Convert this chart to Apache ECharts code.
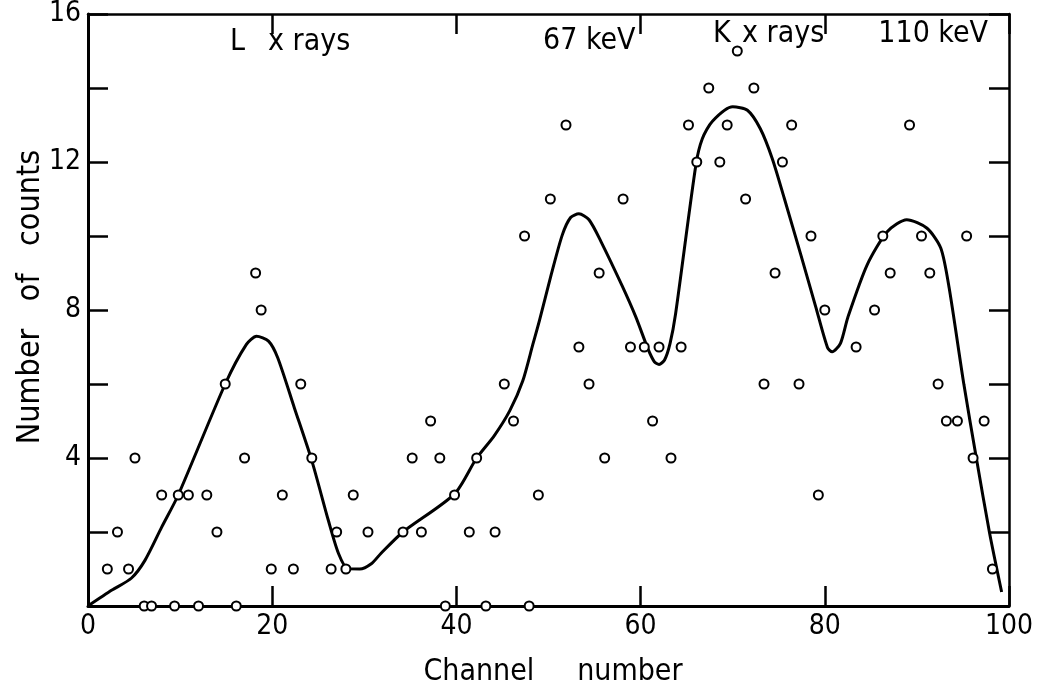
<!DOCTYPE html>
<html>
<head>
<meta charset="utf-8">
<script src="https://cdn.jsdelivr.net/npm/echarts@6/dist/echarts.min.js"></script>
<style>
html,body{margin:0;padding:0;background:#fff;}
#chart{width:1044px;height:694px;}
</style>
</head>
<body>
<div id="chart"></div>
<script>
// Measured counts per channel (open circles)
var pointX = [2.1,3.2,4.4,5.1,6.1,6.9,8.0,9.4,9.8,10.9,12.0,12.9,14.0,14.9,16.1,17.0,18.2,18.8,19.9,21.1,22.3,23.1,24.3,26.4,27.0,28.0,28.8,30.4,34.2,35.2,36.2,37.2,38.2,38.8,39.8,41.4,42.2,43.2,44.2,45.2,46.2,47.4,47.9,48.9,50.2,51.9,53.3,54.4,55.5,56.1,58.1,58.9,60.4,61.3,62.0,63.3,64.4,65.2,66.1,67.4,68.6,69.4,70.5,71.4,72.3,73.4,74.6,75.4,76.4,77.2,78.5,79.3,80.0,83.4,85.4,86.3,87.1,89.2,90.5,91.4,92.3,93.2,94.4,95.4,96.1,97.3,98.2];
var pointY = [1,2,1,4,0,0,3,0,3,3,0,3,2,6,0,4,9,8,1,3,1,6,4,1,2,1,3,2,2,4,2,5,4,0,3,2,4,0,2,6,5,10,0,3,11,13,7,6,9,4,11,7,7,5,7,4,7,13,12,14,12,13,15,11,14,6,9,12,13,6,10,3,8,7,8,10,9,13,10,9,6,5,5,10,4,5,1];

// Hand-drawn smooth fit curve
var curveX = [0,2.6,4.7,6.2,8.0,9.8,14.9,17.2,18.3,19.6,20.6,22.4,24.3,26.1,27.2,28.2,29.5,30.8,31.8,34.2,39.8,42.2,44.1,45.8,47.2,48.3,49.0,50.3,51.5,52.4,53.3,54.4,55.7,58.0,59.5,60.8,61.5,62.0,62.6,63.2,63.8,66.0,66.7,67.8,70.0,71.6,73.0,74.3,75.6,77.4,79.0,80.3,80.8,81.7,82.5,84.6,86.8,88.9,91.1,92.6,93.5,95.1,96.5,97.9,99.2];
var curveY = [0,0.43,0.75,1.24,2.13,3.0,6.0,7.07,7.29,7.16,6.71,5.36,3.93,2.31,1.42,1.01,1.0,1.15,1.42,2.0,3.03,4.0,4.6,5.28,6.08,7.07,7.7,8.96,10.03,10.5,10.6,10.44,9.85,8.65,7.8,6.95,6.6,6.53,6.65,7.1,7.9,11.92,12.63,13.1,13.49,13.4,12.9,12.09,11.02,9.49,8.1,6.98,6.87,7.1,7.8,9.22,10.12,10.44,10.21,9.67,8.6,5.99,3.93,1.96,0.38];

// Axis tick labels / titles / annotations
var xTicks = [0,20,40,60,80,100];
var yLabelled = [4,8,12,16];
var xTitle = 'Channel     number';
var yTitle = 'Number   of   counts';
var annotations = [
  {text:'L', x:230, y:42, align:'left'},
  {text:'x rays', x:268, y:42, align:'left'},
  {text:'67 keV', x:543, y:41, align:'left'},
  {text:'K', x:713, y:34, align:'left'},
  {text:'x rays', x:742, y:34, align:'left'},
  {text:'110 keV', x:988, y:34, align:'right'}
];

var FONT = '"DejaVu Sans Condensed", "DejaVu Sans", sans-serif';

var scatterData = pointX.map(function(x,i){return [x, pointY[i]];});
var curveData = curveX.map(function(x,i){return [x, curveY[i]];});

var chart = echarts.init(document.getElementById('chart'), null, {renderer:'canvas'});

function axisBase(extra){
  var base = {
    type:'value',
    splitLine:{show:false},
    axisLine:{show:true, onZero:false, lineStyle:{color:'#000', width:3}},
    axisTick:{show:true, inside:true, length:20, lineStyle:{color:'#000', width:2.5}},
  };
  for (var k in extra) base[k] = extra[k];
  return base;
}

var graphics = annotations.map(function(a){
  return {type:'text', x:a.x, y:a.y, style:{text:a.text, fill:'#000', font:'30px ' + FONT, align:a.align, verticalAlign:'middle'}};
});
graphics.push({type:'text', x:553, y:672, style:{text:xTitle, fill:'#000', font:'30px ' + FONT, align:'center', verticalAlign:'middle'}});
graphics.push({type:'text', x:31, y:297, rotation:Math.PI/2, style:{text:yTitle, fill:'#000', font:'32px ' + FONT, align:'center', verticalAlign:'middle'}});

chart.setOption({
  animation:false,
  backgroundColor:'#fff',
  grid:{left:88, right:35, top:12, bottom:88, containLabel:false},
  xAxis:[
    axisBase({position:'bottom', min:0, max:100, interval:20,
      axisLabel:{show:true, margin:7, color:'#000', fontSize:28, fontFamily:FONT,
        formatter:function(v){return xTicks.indexOf(v)>=0 ? String(v) : '';}}}),
    axisBase({position:'top', min:0, max:100, interval:20,
      axisLine:{show:true, onZero:false, lineStyle:{color:'#000', width:2.5}},
      axisLabel:{show:false}})
  ],
  yAxis:[
    axisBase({position:'left', min:0, max:16, interval:2,
      axisLabel:{show:true, margin:7, color:'#000', fontSize:28, fontFamily:FONT,
        formatter:function(v){return yLabelled.indexOf(v)>=0 ? String(v) : '';}}}),
    axisBase({position:'right', min:0, max:16, interval:2,
      axisLine:{show:true, onZero:false, lineStyle:{color:'#000', width:2.5}},
      axisLabel:{show:false}})
  ],
  series:[
    {type:'line', data:curveData, xAxisIndex:0, yAxisIndex:0, showSymbol:false, smooth:0.25,
      lineStyle:{color:'#000', width:3}, z:2},
    {type:'scatter', data:scatterData, xAxisIndex:0, yAxisIndex:0, symbol:'circle', symbolSize:9,
      itemStyle:{color:'#fff', borderColor:'#000', borderWidth:2, opacity:1}, z:3}
  ],
  graphic:graphics
});
</script>
</body>
</html>
